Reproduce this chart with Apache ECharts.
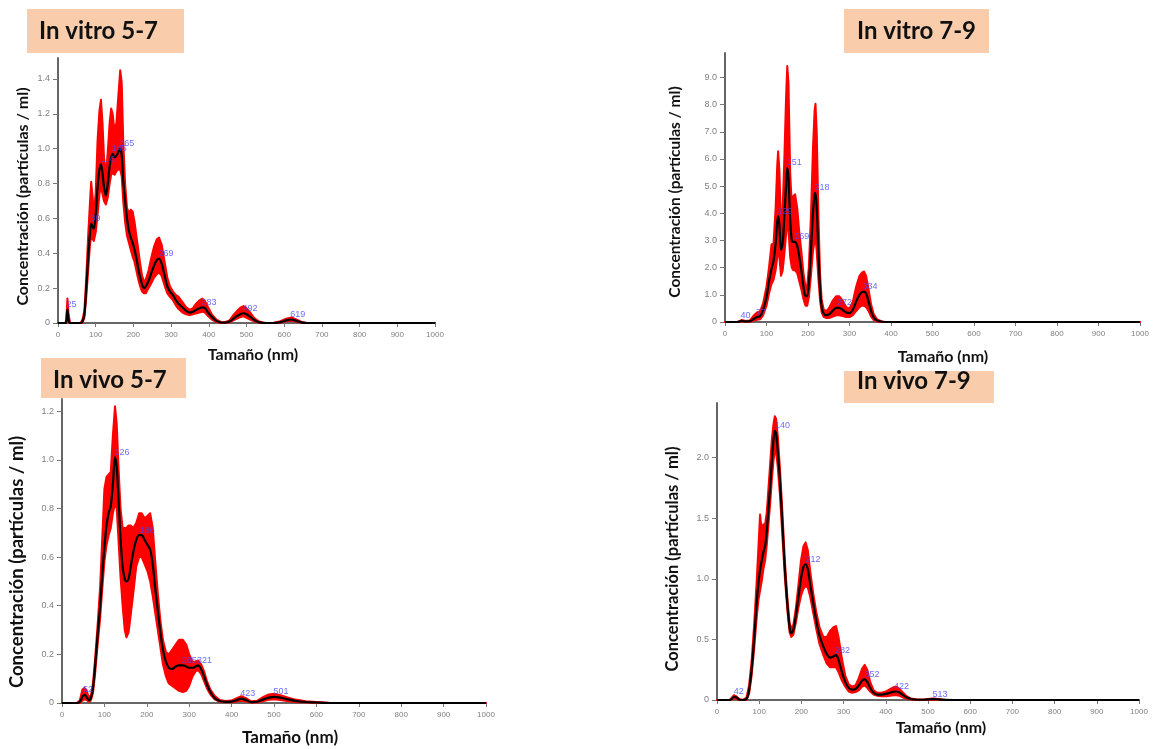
<!DOCTYPE html>
<html>
<head>
<meta charset="utf-8">
<title>NTA</title>
<script src="https://cdn.jsdelivr.net/npm/echarts@6/dist/echarts.min.js"></script>
<style>
html, body { margin: 0; padding: 0; background: #fff; }
#main { width: 1162px; height: 749px; }
</style>
</head>
<body>
<div id="main"></div>
<script>
/*In vitro 5-7*/
var size1 = [0, 20, 22, 25, 28, 32, 60, 65, 70, 75, 80, 85, 88, 92, 95, 100, 105, 110, 114, 118, 122, 127, 132, 137, 141, 145, 150, 155, 160, 165, 169, 173, 178, 183, 188, 193, 198, 203, 208, 213, 218, 223, 228, 233, 240, 248, 255, 262, 268, 275, 282, 290, 297, 305, 313, 320, 330, 340, 350, 358, 366, 375, 383, 390, 398, 408, 420, 432, 442, 455, 465, 475, 485, 492, 500, 510, 520, 532, 545, 570, 590, 605, 619, 632, 645, 660, 1000];
var mean1 = [0, 0, 0.01, 0.08, 0.02, 0, 0, 0.01, 0.05, 0.2, 0.38, 0.52, 0.57, 0.55, 0.54, 0.62, 0.78, 0.88, 0.91, 0.86, 0.78, 0.73, 0.8, 0.9, 0.95, 0.97, 0.95, 0.96, 0.98, 1.0, 0.96, 0.82, 0.7, 0.6, 0.53, 0.49, 0.46, 0.42, 0.37, 0.31, 0.26, 0.22, 0.2, 0.21, 0.24, 0.29, 0.33, 0.36, 0.37, 0.34, 0.28, 0.21, 0.18, 0.16, 0.13, 0.11, 0.09, 0.07, 0.06, 0.065, 0.075, 0.085, 0.09, 0.085, 0.06, 0.035, 0.012, 0.003, 0.002, 0.008, 0.025, 0.04, 0.052, 0.056, 0.05, 0.035, 0.018, 0.005, 0.001, 0, 0.005, 0.015, 0.02, 0.012, 0.004, 0, 0];
var low1 = [0, 0, 0, 0.04, 0.01, 0, 0, 0, 0.03, 0.15, 0.3, 0.45, 0.5, 0.48, 0.47, 0.52, 0.62, 0.74, 0.78, 0.74, 0.7, 0.68, 0.72, 0.8, 0.85, 0.86, 0.85, 0.87, 0.88, 0.88, 0.84, 0.7, 0.58, 0.5, 0.46, 0.42, 0.38, 0.35, 0.3, 0.25, 0.21, 0.18, 0.17, 0.17, 0.2, 0.23, 0.26, 0.28, 0.29, 0.27, 0.22, 0.17, 0.15, 0.13, 0.1, 0.08, 0.06, 0.05, 0.045, 0.05, 0.055, 0.06, 0.065, 0.06, 0.04, 0.02, 0.005, 0, 0, 0.004, 0.015, 0.025, 0.035, 0.038, 0.03, 0.02, 0.01, 0.002, 0, 0, 0.002, 0.01, 0.013, 0.007, 0.002, 0, 0];
var high1 = [0, 0, 0.02, 0.14, 0.05, 0, 0, 0.02, 0.07, 0.26, 0.5, 0.7, 0.81, 0.72, 0.62, 0.75, 1.05, 1.22, 1.28, 1.15, 0.95, 0.85, 0.98, 1.15, 1.23, 1.2, 1.1, 1.15, 1.3, 1.45, 1.38, 1.05, 0.8, 0.66, 0.63, 0.65, 0.64, 0.58, 0.5, 0.42, 0.34, 0.27, 0.24, 0.25, 0.3, 0.38, 0.44, 0.48, 0.49, 0.45, 0.36, 0.26, 0.21, 0.18, 0.16, 0.15, 0.12, 0.09, 0.075, 0.085, 0.11, 0.13, 0.14, 0.125, 0.09, 0.05, 0.02, 0.006, 0.005, 0.015, 0.045, 0.07, 0.09, 0.097, 0.085, 0.06, 0.03, 0.01, 0.002, 0, 0.01, 0.025, 0.032, 0.02, 0.008, 0, 0];
var peakSize1 = [25, 89, 116, 145, 165, 269, 383, 492, 619];
var peakConc1 = [0.08, 0.57, 0.91, 0.97, 1.0, 0.37, 0.09, 0.056, 0.02];

/*In vitro 7-9*/
var size2 = [0, 30, 40, 50, 60, 70, 77, 85, 92, 100, 106, 112, 117, 122, 126, 128, 131, 135, 139, 143, 147, 150, 153, 157, 161, 165, 169, 174, 179, 184, 189, 194, 198, 202, 207, 212, 216, 218, 221, 225, 229, 233, 238, 245, 252, 260, 268, 275, 283, 292, 300, 308, 316, 324, 330, 335, 340, 346, 352, 358, 366, 375, 385, 1000];
var mean2 = [0, 0, 0.04, 0.02, 0.03, 0.12, 0.18, 0.22, 0.45, 0.92, 1.5, 1.95, 2.25, 2.9, 3.7, 3.9, 3.6, 2.65, 2.9, 3.9, 5.0, 5.67, 5.3, 3.8, 3.0, 2.95, 2.95, 2.8, 2.4, 1.9, 1.3, 0.95, 0.95, 1.4, 2.6, 4.0, 4.7, 4.75, 4.2, 2.6, 1.25, 0.55, 0.3, 0.25, 0.3, 0.42, 0.52, 0.52, 0.45, 0.35, 0.33, 0.45, 0.75, 1.0, 1.1, 1.12, 1.05, 0.75, 0.4, 0.18, 0.06, 0.02, 0, 0];
var low2 = [0, 0, 0.02, 0.01, 0.01, 0.05, 0.08, 0.1, 0.25, 0.6, 1.05, 1.4, 1.55, 1.9, 2.4, 2.6, 2.4, 1.7, 1.9, 2.5, 3.2, 3.6, 3.4, 2.4, 2.0, 1.9, 1.9, 1.8, 1.5, 1.2, 0.85, 0.6, 0.6, 0.9, 1.7, 2.6, 3.0, 3.1, 2.6, 1.6, 0.8, 0.35, 0.18, 0.15, 0.15, 0.2, 0.25, 0.25, 0.22, 0.18, 0.18, 0.25, 0.4, 0.55, 0.6, 0.6, 0.55, 0.4, 0.2, 0.08, 0.02, 0, 0, 0];
var high2 = [0, 0, 0.07, 0.04, 0.06, 0.25, 0.35, 0.4, 0.7, 1.3, 2.0, 2.85, 2.9, 4.2, 5.8, 6.28, 5.6, 3.6, 4.2, 6.0, 8.2, 9.42, 8.8, 5.5, 4.3, 4.65, 4.7, 4.2, 3.3, 2.6, 1.8, 1.3, 1.3, 2.0, 3.9, 6.4, 7.8, 8.03, 7.0, 4.0, 1.8, 0.8, 0.45, 0.4, 0.55, 0.8, 0.95, 0.95, 0.8, 0.55, 0.5, 0.75, 1.3, 1.7, 1.82, 1.86, 1.7, 1.2, 0.65, 0.3, 0.1, 0.04, 0, 0];
var peakSize2 = [40, 77, 129, 151, 169, 218, 272, 334];
var peakConc2 = [0.04, 0.18, 3.9, 5.67, 2.95, 4.75, 0.52, 1.12];

/*In vivo 5-7*/
var size3 = [0, 35, 42, 48, 53, 58, 63, 68, 73, 78, 84, 90, 95, 100, 105, 110, 115, 120, 125, 129, 133, 138, 143, 148, 152, 157, 162, 168, 175, 182, 188, 195, 202, 208, 214, 220, 226, 232, 238, 245, 252, 260, 268, 276, 285, 293, 300, 308, 315, 321, 328, 335, 342, 350, 360, 372, 385, 400, 412, 423, 434, 446, 460, 475, 488, 501, 515, 530, 550, 575, 600, 630, 650, 1000];
var mean3 = [0, 0, 0.005, 0.025, 0.033, 0.025, 0.012, 0.02, 0.06, 0.15, 0.28, 0.4, 0.53, 0.64, 0.73, 0.78, 0.81, 0.9, 1.01, 0.97, 0.85, 0.68, 0.56, 0.51, 0.5, 0.51, 0.56, 0.62, 0.67, 0.69, 0.69, 0.67, 0.65, 0.63, 0.57, 0.47, 0.38, 0.29, 0.22, 0.17, 0.145, 0.14, 0.15, 0.155, 0.155, 0.15, 0.145, 0.145, 0.15, 0.155, 0.14, 0.11, 0.075, 0.045, 0.02, 0.008, 0.005, 0.006, 0.012, 0.018, 0.012, 0.004, 0.005, 0.015, 0.022, 0.025, 0.022, 0.016, 0.009, 0.004, 0.002, 0, 0, 0];
var low3 = [0, 0, 0, 0.01, 0.015, 0.012, 0.005, 0.01, 0.04, 0.12, 0.24, 0.35, 0.47, 0.58, 0.65, 0.69, 0.72, 0.78, 0.82, 0.8, 0.68, 0.52, 0.4, 0.3, 0.27, 0.29, 0.36, 0.45, 0.56, 0.6, 0.6, 0.57, 0.54, 0.5, 0.44, 0.37, 0.3, 0.23, 0.16, 0.11, 0.08, 0.07, 0.06, 0.05, 0.045, 0.05, 0.07, 0.11, 0.13, 0.135, 0.12, 0.09, 0.06, 0.035, 0.015, 0.005, 0.003, 0.003, 0.006, 0.009, 0.006, 0.002, 0.002, 0.008, 0.013, 0.015, 0.012, 0.008, 0.004, 0.002, 0.001, 0, 0, 0];
var high3 = [0, 0, 0.01, 0.055, 0.062, 0.05, 0.025, 0.03, 0.08, 0.18, 0.32, 0.48, 0.68, 0.88, 0.93, 0.94, 0.95, 1.1, 1.22, 1.15, 0.98, 0.8, 0.72, 0.72, 0.72, 0.73, 0.73, 0.72, 0.74, 0.78, 0.78, 0.76, 0.77, 0.78, 0.72, 0.58, 0.45, 0.34, 0.26, 0.21, 0.2, 0.22, 0.24, 0.26, 0.26, 0.24, 0.2, 0.17, 0.17, 0.175, 0.16, 0.13, 0.09, 0.055, 0.03, 0.012, 0.008, 0.01, 0.02, 0.028, 0.02, 0.007, 0.009, 0.025, 0.035, 0.038, 0.032, 0.024, 0.014, 0.007, 0.004, 0.001, 0, 0];
var peakSize3 = [52, 126, 186, 285, 321, 423, 501];
var peakConc3 = [0.033, 1.01, 0.69, 0.155, 0.155, 0.018, 0.025];

/*In vivo 7-9*/
var size4 = [0, 30, 35, 40, 46, 52, 60, 70, 76, 82, 88, 94, 98, 102, 106, 110, 114, 118, 122, 126, 130, 134, 137, 140, 144, 149, 155, 161, 167, 172, 176, 181, 187, 193, 199, 205, 210, 215, 221, 228, 235, 243, 252, 260, 268, 276, 282, 288, 296, 304, 312, 320, 328, 336, 344, 350, 356, 363, 371, 380, 390, 400, 410, 418, 425, 433, 441, 450, 460, 475, 490, 505, 513, 525, 540, 560, 1000];
var mean4 = [0, 0, 0.01, 0.027, 0.02, 0.005, 0, 0.01, 0.08, 0.25, 0.5, 0.8, 0.96, 1.07, 1.15, 1.22, 1.27, 1.4, 1.58, 1.76, 1.97, 2.15, 2.22, 2.2, 2.05, 1.82, 1.45, 1.07, 0.78, 0.6, 0.55, 0.58, 0.7, 0.85, 1.0, 1.1, 1.12, 1.08, 0.95, 0.8, 0.66, 0.53, 0.44, 0.38, 0.35, 0.36, 0.37, 0.33, 0.23, 0.15, 0.1, 0.085, 0.09, 0.12, 0.16, 0.17, 0.15, 0.1, 0.06, 0.045, 0.045, 0.05, 0.06, 0.068, 0.07, 0.06, 0.04, 0.02, 0.008, 0.002, 0.002, 0.006, 0.008, 0.005, 0.001, 0, 0];
var low4 = [0, 0, 0.005, 0.015, 0.01, 0, 0, 0, 0.05, 0.2, 0.42, 0.68, 0.82, 0.9, 0.98, 1.08, 1.15, 1.28, 1.45, 1.62, 1.82, 1.98, 2.05, 2.05, 1.92, 1.7, 1.35, 1.0, 0.73, 0.56, 0.52, 0.54, 0.64, 0.76, 0.86, 0.92, 0.94, 0.93, 0.85, 0.72, 0.59, 0.46, 0.37, 0.3, 0.27, 0.27, 0.27, 0.23, 0.16, 0.11, 0.07, 0.06, 0.065, 0.08, 0.11, 0.12, 0.1, 0.07, 0.045, 0.035, 0.03, 0.03, 0.035, 0.04, 0.04, 0.035, 0.02, 0.01, 0.004, 0, 0, 0.003, 0.004, 0.002, 0, 0, 0];
var high4 = [0, 0, 0.02, 0.04, 0.03, 0.01, 0, 0.02, 0.12, 0.32, 0.62, 0.98, 1.25, 1.53, 1.4, 1.45, 1.45, 1.55, 1.75, 1.95, 2.15, 2.28, 2.34, 2.32, 2.18, 1.92, 1.55, 1.14, 0.83, 0.64, 0.59, 0.62, 0.76, 0.95, 1.15, 1.27, 1.3, 1.24, 1.06, 0.88, 0.73, 0.6, 0.52, 0.52, 0.57, 0.6, 0.61, 0.52, 0.34, 0.2, 0.13, 0.11, 0.12, 0.18, 0.26, 0.29, 0.25, 0.15, 0.08, 0.06, 0.06, 0.07, 0.09, 0.105, 0.11, 0.09, 0.06, 0.03, 0.012, 0.004, 0.004, 0.01, 0.012, 0.008, 0.002, 0, 0];
var peakSize4 = [42, 140, 212, 282, 352, 422, 513];
var peakConc4 = [0.027, 2.22, 1.12, 0.37, 0.17, 0.07, 0.008];

var titles = ['In vitro 5-7', 'In vitro 7-9', 'In vivo 5-7', 'In vivo 7-9'];
var xTitle = 'Tamaño (nm)';
var yTitle = 'Concentración (partículas / ml)';
var yMax = [1.52, 9.9, 1.25, 2.45];
var yStep = [0.2, 1, 0.2, 0.5];

function pairs(a, b) {
	var d = [];
	for(var i = 0; i < a.length; i++) {
		d.push([a[i], b[i]]);
	}
	return d;
}

/*banda roja entre low y high*/
function bandSeries(k, size, low, high) {
	var d = [];
	for(var i = 0; i < size.length; i++) {
		d.push([size[i], low[i], high[i]]);
	}
	return {
		type: 'custom',
		xAxisIndex: k,
		yAxisIndex: k,
		silent: true,
		data: d,
		encode: { x: 0, y: [1, 2] },
		z: 2,
		renderItem: function(params, api) {
			if(params.dataIndex !== 0) return null;
			var pts = [];
			for(var i = 0; i < size.length; i++) pts.push(api.coord([size[i], high[i]]));
			for(var j = size.length - 1; j >= 0; j--) pts.push(api.coord([size[j], low[j]]));
			return {
				type: 'polygon',
				shape: { points: pts },
				style: { fill: '#ff0000', stroke: '#ff0000', lineWidth: 2, lineJoin: 'round' }
			};
		}
	};
}

function meanSeries(k, size, mean) {
	return {
		type: 'line',
		xAxisIndex: k,
		yAxisIndex: k,
		data: pairs(size, mean),
		symbol: 'none',
		smooth: 0.3,
		lineStyle: { color: '#000', width: 2.2 },
		z: 3
	};
}

function peakSeries(k, size, conc) {
	return {
		type: 'scatter',
		xAxisIndex: k,
		yAxisIndex: k,
		data: pairs(size, conc),
		symbolSize: 0,
		z: 4,
		label: {
			show: true,
			position: 'right',
			distance: 0,
			offset: [-1, -5],
			color: '#4646ff',
			fontSize: 9,
			fontFamily: 'Liberation Sans',
			formatter: function(p) { return p.value[0]; }
		}
	};
}

var grids = [
	{ left: 58, top: 58, width: 377, height: 265 },
	{ left: 725, top: 53, width: 415, height: 269 },
	{ left: 62, top: 399, width: 424, height: 304 },
	{ left: 717, top: 403, width: 422, height: 297 }
];
var xNameSize = [16, 16, 17, 16];
var xNameGap = [24, 27, 26, 20];
var xNamePad = [13, 21, 32, 26];
var yNameSize = [16, 15.5, 18.5, 16.5];
var yNameGap = [27, 42, 35, 36];
var yNamePad = [12, 9, 22, 15];

var xAxes = [], yAxes = [], series = [], graphics = [];
for(var k = 0; k < 4; k++) {
	xAxes.push({
		gridIndex: k, type: 'value', min: 0, max: 1000, interval: 100,
		name: xTitle, nameLocation: 'middle', nameGap: xNameGap[k], nameMoveOverlap: false,
		nameTextStyle: { fontFamily: 'Lato', fontWeight: 'bold', fontSize: xNameSize[k], color: '#111', padding: [0, 0, 0, xNamePad[k]] },
		axisLine: { lineStyle: { color: '#666', width: 2 } },
		axisTick: { length: 4, lineStyle: { color: '#777' } },
		axisLabel: {
			fontSize: 8, color: '#808080', margin: 8, fontFamily: 'Liberation Sans',
			formatter: function(v) { return String(v); }
		},
		splitLine: { show: false }
	});
	yAxes.push({
		gridIndex: k, type: 'value', min: 0, max: yMax[k], interval: yStep[k],
		name: yTitle, nameLocation: 'middle', nameRotate: 90, nameGap: yNameGap[k], nameMoveOverlap: false,
		nameTextStyle: { fontFamily: 'Lato', fontWeight: 'bold', fontSize: yNameSize[k], color: '#111', padding: [0, yNamePad[k], 0, 0] },
		axisLine: { show: true, lineStyle: { color: '#666', width: 2 } },
		axisTick: { show: true, length: 5, lineStyle: { color: '#777' } },
		axisLabel: {
			fontSize: 9, color: '#808080', margin: 8, fontFamily: 'Liberation Sans', showMaxLabel: false,
			formatter: function(v) { return v === 0 ? '0' : v.toFixed(1); }
		},
		splitLine: { show: false }
	});
}

series.push(bandSeries(0, size1, low1, high1), meanSeries(0, size1, mean1), peakSeries(0, peakSize1, peakConc1));
series.push(bandSeries(1, size2, low2, high2), meanSeries(1, size2, mean2), peakSeries(1, peakSize2, peakConc2));
series.push(bandSeries(2, size3, low3, high3), meanSeries(2, size3, mean3), peakSeries(2, peakSize3, peakConc3));
series.push(bandSeries(3, size4, low4, high4), meanSeries(3, size4, mean4), peakSeries(3, peakSize4, peakConc4));

/*cajas de titulo*/
var boxes = [
	{ x: 27, y: 9, w: 157, h: 44, tx: 39, ty: 31 },
	{ x: 844, y: 9, w: 145, h: 44, tx: 857, ty: 31 },
	{ x: 41, y: 358, w: 145, h: 40, tx: 53, ty: 380 },
	{ x: 844, y: 371, w: 150, h: 32, tx: 857, ty: 381 }
];
for(var b = 0; b < boxes.length; b++) {
	graphics.push({
		type: 'rect', left: boxes[b].x, top: boxes[b].y, z: 10,
		shape: { width: boxes[b].w, height: boxes[b].h },
		style: { fill: '#f9cdac' }
	});
	graphics.push({
		type: 'text', x: boxes[b].tx, y: boxes[b].ty, z: 11,
		style: { text: titles[b], fill: '#111', font: 'bold 24px Lato', textAlign: 'left', textVerticalAlign: 'middle' }
	});
}

var chart = echarts.init(document.getElementById('main'));
chart.setOption({
	backgroundColor: '#fff',
	animation: false,
	grid: grids,
	xAxis: xAxes,
	yAxis: yAxes,
	series: series,
	graphic: graphics
});
</script>
</body>
</html>
